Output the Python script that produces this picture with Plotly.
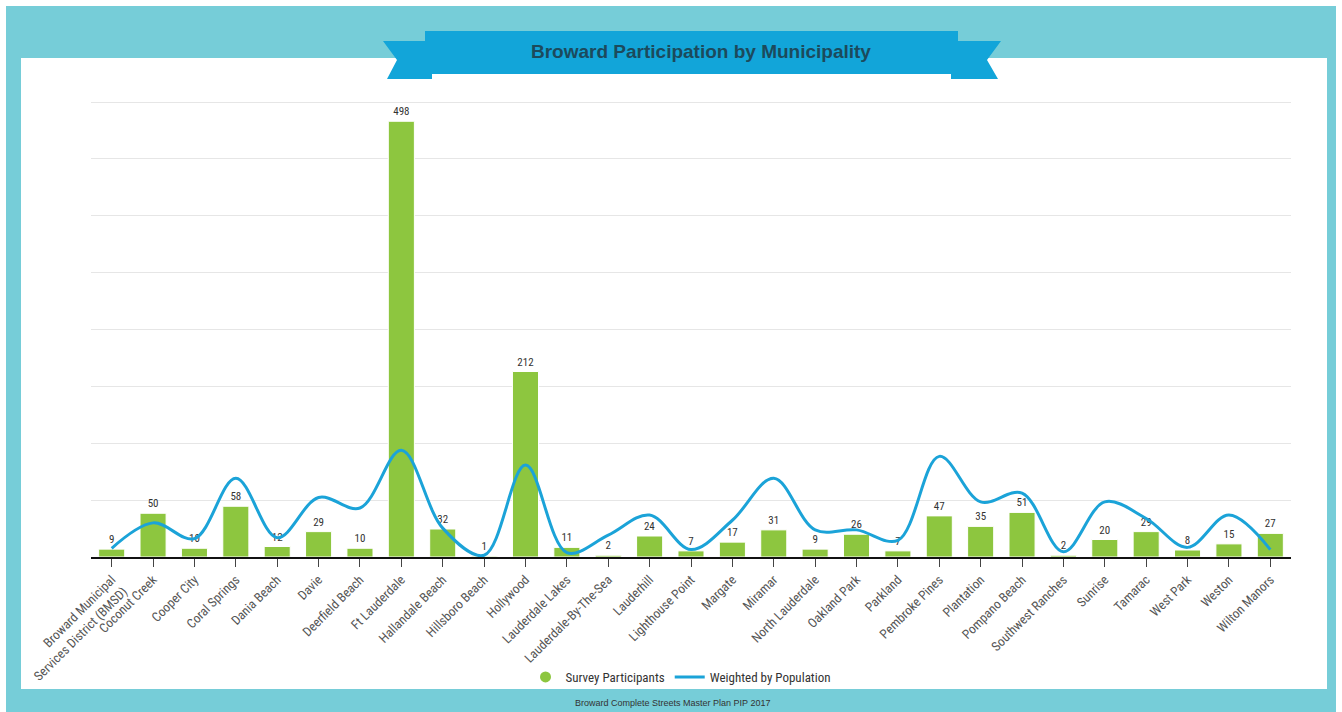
import plotly.graph_objects as go

W, H = 1342, 712

municipalities = [
    "Broward Municipal<br>Services District (BMSD)", "Coconut Creek", "Cooper City",
    "Coral Springs", "Dania Beach", "Davie", "Deerfield Beach", "Ft Lauderdale",
    "Hallandale Beach", "Hillsboro Beach", "Hollywood", "Lauderdale Lakes",
    "Lauderdale-By-The-Sea", "Lauderhill", "Lighthouse Point", "Margate", "Miramar",
    "North Lauderdale", "Oakland Park", "Parkland", "Pembroke Pines", "Plantation",
    "Pompano Beach", "Southwest Ranches", "Sunrise", "Tamarac", "West Park",
    "Weston", "Wilton Manors",
]
survey_participants = [9, 50, 10, 58, 12, 29, 10, 498, 32, 1, 212, 11, 2, 24, 7,
                       17, 31, 9, 26, 7, 47, 35, 51, 2, 20, 29, 8, 15, 27]
weighted_by_population = [10, 39, 21, 90, 22, 68, 56, 122, 33, 2, 105, 5, 25, 48, 8.5,
                          42, 90, 31, 31, 19, 115, 63, 73, 6, 63, 44, 11, 48, 8.5]

TEAL = "#76cdd8"
BANNER = "#12a5d9"
GREEN = "#8dc63f"
BLUE = "#1ba3d8"
CONDENSED = "Roboto Condensed, Liberation Sans Narrow, Roboto"

Y_MAX = 525
BASE_PX, GRID_TOP_PX, GRID_TOP_VAL = 557, 102, 520
PLOT_TOP_PX = BASE_PX - (BASE_PX - GRID_TOP_PX) * Y_MAX / GRID_TOP_VAL


def px(x):
    return x / W


def py(y):
    return 1 - y / H


fig = go.Figure()

fig.add_trace(go.Bar(
    x=municipalities, y=survey_participants, name="Survey Participants",
    marker=dict(color=GREEN, line=dict(color="#ffffff", width=1)),
    text=[str(v) for v in survey_participants], textposition="outside",
    textfont=dict(family=CONDENSED, size=11, color="#333333"),
    cliponaxis=False, showlegend=False,
))
fig.add_trace(go.Scatter(
    x=municipalities, y=weighted_by_population, name="Weighted by Population",
    mode="lines", line=dict(color=BLUE, width=3, shape="spline", smoothing=1.0),
    showlegend=False,
))
# legend entries: round marker for the bars, short line for the curve
fig.add_trace(go.Scatter(
    x=[None], y=[None], mode="markers", name="Survey Participants",
    marker=dict(color=GREEN, size=11, symbol="circle"),
))
fig.add_trace(go.Scatter(
    x=[None], y=[None], mode="lines", name="Weighted by Population",
    line=dict(color=BLUE, width=3),
))

shapes = [
    # teal frame and white panel
    dict(type="rect", xref="paper", yref="paper", x0=px(6), x1=px(1336), y0=py(712), y1=py(6),
         fillcolor=TEAL, line=dict(width=0), layer="below"),
    dict(type="rect", xref="paper", yref="paper", x0=px(21), x1=px(1327), y0=py(689), y1=py(58),
         fillcolor="#ffffff", line=dict(width=0), layer="below"),
]

# ribbon tails with notched ends
left_tail = [(383, 41), (432, 41), (432, 79), (387, 79), (397, 60)]
right_tail = [(951, 41), (1001, 41), (987, 60), (998, 79), (951, 79)]
for poly in (left_tail, right_tail):
    path = "M " + " L ".join(f"{px(a)},{py(b)}" for a, b in poly) + " Z"
    shapes.append(dict(type="path", xref="paper", yref="paper", path=path,
                       fillcolor=BANNER, line=dict(width=0)))
shapes.append(dict(type="rect", xref="paper", yref="paper", x0=px(425), x1=px(958),
                   y0=py(74), y1=py(31), fillcolor=BANNER, line=dict(width=0)))

annotations = [
    dict(text="<b>Broward Participation by Municipality</b>", xref="paper", yref="paper",
         x=px(701), y=py(52), showarrow=False, xanchor="center", yanchor="middle",
         font=dict(family="Liberation Sans, Arial", size=19, color="#1c4a5c")),
    dict(text="Broward Complete Streets Master Plan PIP 2017", xref="paper", yref="paper",
         x=px(672), y=py(703), showarrow=False, xanchor="center", yanchor="middle",
         font=dict(family="Liberation Sans, Arial", size=9, color="#333333")),
]

fig.update_layout(
    width=W, height=H,
    margin=dict(l=0, r=0, t=0, b=0, autoexpand=False),
    paper_bgcolor="#ffffff", plot_bgcolor="rgba(0,0,0,0)",
    shapes=shapes, annotations=annotations,
    bargap=0.37,
    legend=dict(orientation="h", x=px(681), xanchor="center", y=py(677), yanchor="middle",
                font=dict(family=CONDENSED, size=13, color="#333333"),
                bgcolor="rgba(0,0,0,0)", itemwidth=30),
    xaxis=dict(domain=[px(91), px(1291)], tickangle=-45, automargin=False,
               showline=True, linecolor="#111111", linewidth=2,
               ticks="outside", ticklen=8, tickcolor="#444444", tickwidth=1,
               showgrid=False,
               tickfont=dict(family=CONDENSED, size=13, color="#555555")),
    yaxis=dict(domain=[py(BASE_PX), py(PLOT_TOP_PX)], range=[0, Y_MAX], tick0=0, dtick=65,
               automargin=False,
               showticklabels=False, showgrid=True, gridcolor="#e6e6e6", gridwidth=1,
               zeroline=False),
)

fig.write_html("out.html")
